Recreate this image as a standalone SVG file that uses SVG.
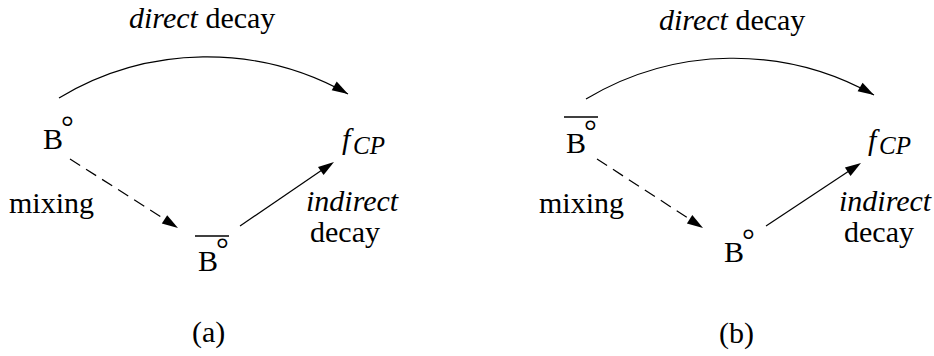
<svg xmlns="http://www.w3.org/2000/svg" width="934" height="356" viewBox="0 0 934 356">
<rect width="934" height="356" fill="#fff"/>
<g id="connectors">
<path d="M59,98 A287,287 0 0 1 348,94" fill="none" stroke="#000" stroke-width="1.2"/>
<polygon points="348,94 331.7,90.2 336.7,81.6" fill="#000"/>
<path d="M70,159 L166,220" fill="none" stroke="#000" stroke-width="1.2" stroke-dasharray="12 7"/>
<polygon points="178,228 161.8,223.6 167.2,215.2" fill="#000"/>
<path d="M240,226 L322,170" fill="none" stroke="#000" stroke-width="1.2"/>
<polygon points="334,162 323.6,175.1 318,166.9" fill="#000"/>
<path d="M586,99 A287,287 0 0 1 874,95" fill="none" stroke="#000" stroke-width="1.2"/>
<polygon points="874,95 857.6,91.3 862.6,82.7" fill="#000"/>
<path d="M597,159 L691,220" fill="none" stroke="#000" stroke-width="1.2" stroke-dasharray="12 7"/>
<polygon points="703,228 686.9,223.5 692.3,215.1" fill="#000"/>
<path d="M766,226 L849,171" fill="none" stroke="#000" stroke-width="1.2"/>
<polygon points="861,163 850.5,176 844.9,167.6" fill="#000"/>
</g>
<text x="129" y="28" style="font-family:'Liberation Serif','Times New Roman',serif;font-size:30px"><tspan style="font-style:italic">direct</tspan> decay</text>
<text x="9" y="213" style="font-family:'Liberation Serif','Times New Roman',serif;font-size:30px">mixing</text>
<text x="306" y="211" style="font-family:'Liberation Serif','Times New Roman',serif;font-size:30px;font-style:italic">indirect</text>
<text x="310" y="242" style="font-family:'Liberation Serif','Times New Roman',serif;font-size:30px">decay</text>
<text x="192" y="342" style="font-family:'Liberation Serif','Times New Roman',serif;font-size:30px">(a)</text>
<text x="659" y="30" style="font-family:'Liberation Serif','Times New Roman',serif;font-size:30px"><tspan style="font-style:italic">direct</tspan> decay</text>
<text x="539" y="213" style="font-family:'Liberation Serif','Times New Roman',serif;font-size:30px">mixing</text>
<text x="839" y="211" style="font-family:'Liberation Serif','Times New Roman',serif;font-size:30px;font-style:italic">indirect</text>
<text x="844" y="242" style="font-family:'Liberation Serif','Times New Roman',serif;font-size:30px">decay</text>
<text x="719" y="343" style="font-family:'Liberation Serif','Times New Roman',serif;font-size:30px">(b)</text>
<g id="a-B0">
<text x="43" y="149" style="font-family:'Liberation Serif','Times New Roman',serif;font-size:30px">B<tspan style="font-size:32px" dx="-2" dy="-11">°</tspan></text>
</g>
<g id="a-B0bar">
<line x1="195" y1="236" x2="229" y2="236" stroke="#000" stroke-width="1.6"/>
<text x="198" y="271" style="font-family:'Liberation Serif','Times New Roman',serif;font-size:30px">B<tspan style="font-size:32px" dx="-2" dy="-11">°</tspan></text>
</g>
<g id="a-fCP">
<text x="342" y="149" style="font-family:'Liberation Serif','Times New Roman',serif;font-size:30px;font-style:italic">f</text>
<text x="353" y="154" style="font-family:'Liberation Serif','Times New Roman',serif;font-size:25px;font-style:italic">CP</text>
</g>
<g id="b-B0bar">
<line x1="564" y1="117" x2="598" y2="117" stroke="#000" stroke-width="1.6"/>
<text x="566" y="153" style="font-family:'Liberation Serif','Times New Roman',serif;font-size:30px">B<tspan style="font-size:32px" dx="-2" dy="-11">°</tspan></text>
</g>
<g id="b-B0">
<text x="724" y="262" style="font-family:'Liberation Serif','Times New Roman',serif;font-size:30px">B<tspan style="font-size:32px" dx="-2" dy="-11">°</tspan></text>
</g>
<g id="b-fCP">
<text x="868" y="150" style="font-family:'Liberation Serif','Times New Roman',serif;font-size:30px;font-style:italic">f</text>
<text x="879" y="154" style="font-family:'Liberation Serif','Times New Roman',serif;font-size:25px;font-style:italic">CP</text>
</g>
</svg>
